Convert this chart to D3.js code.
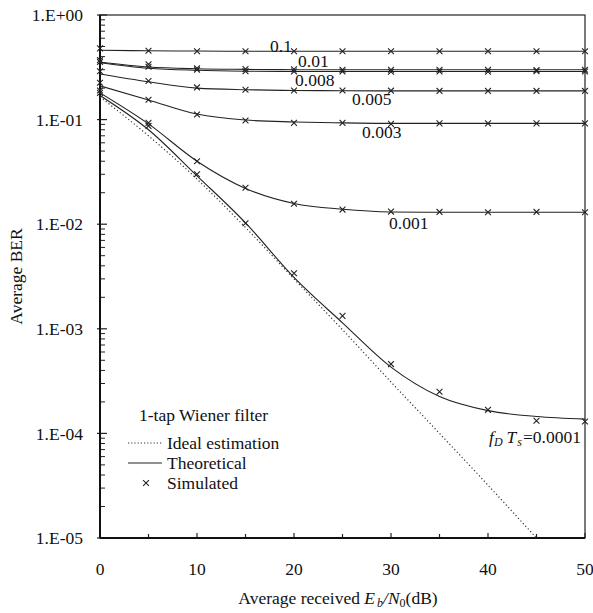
<!DOCTYPE html>
<html>
<head>
<meta charset="utf-8">
<script src="https://cdn.jsdelivr.net/npm/d3@7"></script>
<style>
  body { margin: 0; background: #fff; }
  text { font-family: "Liberation Serif", "DejaVu Serif", serif; fill: #111; }
</style>
</head>
<body>
<div id="chart"></div>
<script>
// Eb/N0 points (dB)
var snr = [0, 5, 10, 15, 20, 25, 30, 35, 40, 45, 50];

// ideal channel estimation
var ideal = [0.165, 0.07, 0.027, 0.0093, 0.0030, 0.00098, 0.00031, 0.0001, 0.000032, 0.00001, 0.0000032];

// theoretical BER for each fD*Ts
var fdLabels = ["0.1", "0.01", "0.008", "0.005", "0.003", "0.001", "0.0001"];
var theory = [
  [0.46, 0.455, 0.452, 0.45, 0.45, 0.45, 0.45, 0.45, 0.45, 0.45, 0.45],
  [0.355, 0.318, 0.306, 0.302, 0.30, 0.30, 0.30, 0.30, 0.30, 0.30, 0.30],
  [0.35, 0.31, 0.296, 0.29, 0.288, 0.288, 0.288, 0.288, 0.288, 0.288, 0.288],
  [0.273, 0.23, 0.20, 0.193, 0.19, 0.189, 0.188, 0.188, 0.188, 0.188, 0.188],
  [0.21, 0.154, 0.113, 0.099, 0.095, 0.093, 0.092, 0.092, 0.092, 0.092, 0.092],
  [0.18, 0.091, 0.040, 0.022, 0.0158, 0.0139, 0.0131, 0.0130, 0.0130, 0.0130, 0.0130],
  [0.17, 0.08, 0.029, 0.0103, 0.0031, 0.00114, 0.00043, 0.000225, 0.000165, 0.000145, 0.000137]
];

// simulated BER (markers)
var simulated = [
  [0.48, 0.455, 0.45, 0.45, 0.45, 0.45, 0.45, 0.45, 0.45, 0.45, 0.45],
  [0.37, 0.338, 0.31, 0.305, 0.303, 0.30, 0.30, 0.30, 0.30, 0.298, 0.30],
  [0.355, 0.32, 0.30, 0.29, 0.288, 0.288, 0.287, 0.288, 0.287, 0.29, 0.288],
  [0.29, 0.234, 0.203, 0.193, 0.19, 0.19, 0.189, 0.188, 0.188, 0.188, 0.188],
  [0.225, 0.155, 0.112, 0.098, 0.093, 0.093, 0.091, 0.092, 0.092, 0.092, 0.092],
  [0.19, 0.093, 0.040, 0.0223, 0.0157, 0.0138, 0.0132, 0.0131, 0.0130, 0.0131, 0.0130],
  [0.18, 0.087, 0.030, 0.0102, 0.0034, 0.00133, 0.00046, 0.00025, 0.000168, 0.000132, 0.00013]
];

var yTickLabels = ["1.E+00", "1.E-01", "1.E-02", "1.E-03", "1.E-04", "1.E-05"];
var legendItems = ["Ideal estimation", "Theoretical", "Simulated"];

var svgWidth = 593;
var svgHeight = 613;
var margin = { top: 15, right: 8, bottom: 75, left: 100 };
var width = svgWidth - margin.left - margin.right;
var height = svgHeight - margin.top - margin.bottom;
var fs = "17.5px";

var svg = d3.select("#chart")
  .append("svg")
  .attr("width", svgWidth)
  .attr("height", svgHeight);

var g = svg.append("g")
  .attr("transform", `translate(${margin.left}, ${margin.top})`);

var x = d3.scaleLinear().domain([0, 50]).range([0, width]);
var y = d3.scaleLog().domain([1e-5, 1]).range([height, 0]);

svg.append("defs").append("clipPath").attr("id", "clip")
  .append("rect").attr("width", width).attr("height", height);

// y ticks: majors at decades, minors 2..9 inside
var minor = [];
for (var e = -5; e < 0; e++) {
  for (var m = 2; m <= 9; m++) minor.push(m * Math.pow(10, e));
}
g.selectAll(".ymin").data(minor).enter().append("line")
  .attr("x1", 0).attr("x2", 5)
  .attr("y1", d => y(d)).attr("y2", d => y(d))
  .attr("stroke", "#222").attr("stroke-width", 1);

var decades = yTickLabels.map((t, i) => Math.pow(10, -i));
g.selectAll(".ymaj").data(decades).enter().append("line")
  .attr("x1", -3).attr("x2", 7)
  .attr("y1", d => y(d)).attr("y2", d => y(d))
  .attr("stroke", "#222").attr("stroke-width", 1.2);

g.selectAll(".ylab").data(yTickLabels).enter().append("text")
  .attr("x", -17)
  .attr("y", (d, i) => y(decades[i]))
  .attr("dy", "0.35em")
  .attr("text-anchor", "end")
  .style("font-size", fs)
  .text(d => d);

// x ticks inside
var xTicks = d3.range(0, 51, 5);
g.selectAll(".xt").data(xTicks).enter().append("line")
  .attr("x1", d => x(d)).attr("x2", d => x(d))
  .attr("y1", height).attr("y2", d => d % 10 === 0 ? height - 5 : height - 4)
  .attr("stroke", "#222").attr("stroke-width", 1.2);

g.selectAll(".xlab").data(d3.range(0, 51, 10)).enter().append("text")
  .attr("x", d => x(d))
  .attr("y", height + 37)
  .attr("text-anchor", "middle")
  .style("font-size", fs)
  .text(d => d);

// frame
g.append("rect")
  .attr("width", width).attr("height", height)
  .attr("fill", "none").attr("stroke", "#222").attr("stroke-width", 1.2);
g.append("line").attr("x1", 0).attr("x2", width).attr("y1", height).attr("y2", height)
  .attr("stroke", "#111").attr("stroke-width", 2);
g.append("line").attr("x1", 0).attr("x2", 0).attr("y1", 0).attr("y2", height)
  .attr("stroke", "#111").attr("stroke-width", 2);

var plot = g.append("g").attr("clip-path", "url(#clip)");

var line = d3.line()
  .x((d, i) => x(snr[i]))
  .y(d => y(d))
  .curve(d3.curveMonotoneX);

// ideal estimation
plot.append("path")
  .datum(ideal)
  .attr("d", line)
  .attr("fill", "none")
  .attr("stroke", "#333")
  .attr("stroke-width", 1.2)
  .attr("stroke-dasharray", "1.2,2.4");

// theoretical curves
plot.selectAll(".theory").data(theory).enter().append("path")
  .attr("d", line)
  .attr("fill", "none")
  .attr("stroke", "#222")
  .attr("stroke-width", 1.1);

// simulated markers
var cross = d3.symbol().type(d3.symbolTimes).size(24);
simulated.forEach(function(series) {
  g.selectAll(null).data(series).enter().append("path")
    .attr("d", cross)
    .attr("transform", (d, i) => `translate(${x(snr[i])}, ${y(d)})`)
    .attr("fill", "none")
    .attr("stroke", "#222")
    .attr("stroke-width", 1.1);
});

// curve labels
var labelPos = [[170, 37], [198, 52], [195, 71], [252, 90], [262, 123], [289, 214]];
fdLabels.slice(0, 6).forEach(function(t, i) {
  g.append("text")
    .attr("x", labelPos[i][0]).attr("y", labelPos[i][1])
    .style("font-size", fs)
    .text(t);
});
var fdt = g.append("text")
  .attr("x", 389).attr("y", 428)
  .style("font-size", fs);
fdt.append("tspan").style("font-style", "italic").text("f");
fdt.append("tspan").style("font-style", "italic").style("font-size", "12px").attr("dy", 3).text("D");
fdt.append("tspan").style("font-style", "italic").attr("dy", -3).attr("dx", 4).text("T");
fdt.append("tspan").style("font-style", "italic").style("font-size", "12px").attr("dy", 3).attr("dx", 1).text("s");
fdt.append("tspan").attr("dy", -3).attr("dx", 1).text("=0.0001");

// legend
var lg = g.append("g").attr("transform", "translate(28, 406)");
lg.append("text").attr("x", 11).attr("y", 0).style("font-size", fs).text("1-tap Wiener filter");
lg.selectAll(".li").data(legendItems).enter().append("text")
  .attr("x", 39).attr("y", (d, i) => 28 + i * 20)
  .style("font-size", fs)
  .text(d => d);
lg.append("line").attr("x1", 0).attr("x2", 34).attr("y1", 22).attr("y2", 22)
  .attr("stroke", "#333").attr("stroke-width", 1.2).attr("stroke-dasharray", "1.2,2");
lg.append("line").attr("x1", 0).attr("x2", 34).attr("y1", 42).attr("y2", 42)
  .attr("stroke", "#222").attr("stroke-width", 1.1);
lg.append("path").attr("d", cross).attr("transform", "translate(18, 62)")
  .attr("fill", "none").attr("stroke", "#222").attr("stroke-width", 1.1);

// axis titles
svg.append("text")
  .attr("transform", `translate(22, ${margin.top + height / 2}) rotate(-90)`)
  .attr("text-anchor", "middle")
  .style("font-size", fs)
  .text("Average BER");

var xt = svg.append("text")
  .attr("x", 338)
  .attr("y", 604)
  .attr("text-anchor", "middle")
  .style("font-size", fs);
xt.append("tspan").text("Average received ");
xt.append("tspan").style("font-style", "italic").text("E");
xt.append("tspan").style("font-style", "italic").style("font-size", "12px").attr("dy", 3).attr("dx", 2).text("b");
xt.append("tspan").style("font-style", "italic").attr("dy", -3).text("/N");
xt.append("tspan").style("font-size", "12px").attr("dy", 3).text("0");
xt.append("tspan").attr("dy", -3).text("(dB)");
</script>
</body>
</html>
